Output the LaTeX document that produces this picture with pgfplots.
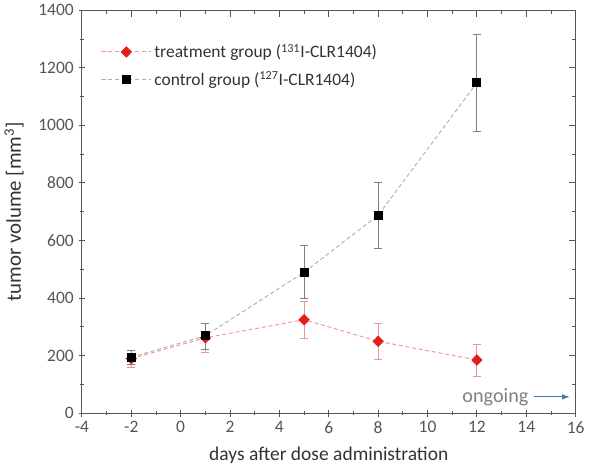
\documentclass[border=0pt]{standalone}
\usepackage{pgfplots}
\pgfplotsset{compat=1.18}
\usepackage{fontspec}
\setmainfont{Carlito}
\definecolor{axisgray}{RGB}{85,85,85}
\definecolor{treat}{RGB}{226,30,30}
\definecolor{treatline}{RGB}{240,150,150}
\definecolor{ctrlline}{RGB}{175,175,175}
\definecolor{arrowblue}{RGB}{70,120,180}

\pgfplotsset{
  frame/.style={
    scale only axis,
    width=367.5pt, height=300pt,
    xmin=-4, xmax=16, ymin=0, ymax=1400,
    xtick distance=2, ytick distance=200,
    minor x tick num=1, minor y tick num=1,
    major tick length=5pt, minor tick length=3pt,
    axis line style={axisgray, line width=0.8pt},
    every tick/.style={axisgray, line width=0.7pt},
  }
}

\begin{document}
\begin{tikzpicture}
% top and right: ticks inside, no labels
\begin{axis}[frame, tick align=inside, xtick pos=right, ytick pos=right,
    xticklabels={}, yticklabels={}]
\end{axis}
\begin{axis}[frame,
    tick align=center, xtick pos=left, ytick pos=left,
    tick label style={font=\fontsize{13}{15}\selectfont, text=axisgray},
    /pgf/number format/assume math mode=true,
    /pgf/number format/1000 sep={},
    xlabel={days after dose administration},
    ylabel={tumor volume [mm\textsuperscript{3}]},
    xlabel style={font=\fontsize{14.5}{17}\selectfont, text=black!80, yshift=-3pt},
    ylabel style={font=\fontsize{15.5}{18}\selectfont, text=black!80, yshift=4pt},
    legend style={draw=none, fill=none, at={(0.03,0.93)}, anchor=north west,
        font=\fontsize{13}{15}\selectfont, text=black!80, row sep=5pt},
    legend cell align=left,
    legend image code/.code={\draw[mark repeat=2, mark phase=2, #1]
        plot coordinates {(0cm,0cm) (0.65cm,0cm) (1.3cm,0cm)};},
    error bars/y dir=both, error bars/y explicit,
]
\addplot[densely dashed, treatline, line width=0.7pt,
    mark=diamond*, mark size=3.8pt, mark options={solid, fill=treat, draw=treat, xscale=1.3},
    error bars/error bar style={treatline, solid, line width=0.7pt},
    error bars/error mark options={rotate=90, treatline, mark size=3pt}]
    coordinates {
    (-2,190) +- (0,30)
    (1,262) +- (0,50)
    (5,325) +- (0,63)
    (8,250) +- (0,62)
    (12,185) +- (0,55)
    };
\addlegendentry{treatment group (\textsuperscript{131}I-CLR1404)}
\addplot[densely dashed, ctrlline, line width=0.7pt,
    mark=square*, mark size=3pt, mark options={solid, fill=black, draw=black},
    error bars/error bar style={gray, solid, line width=0.7pt},
    error bars/error mark options={rotate=90, gray, mark size=3pt}]
    coordinates {
    (-2,195) +- (0,25)
    (1,269) +- (0,45)
    (5,490) +- (0,92)
    (8,688) +- (0,115)
    (12,1148) +- (0,170)
    };
\addlegendentry{control group (\textsuperscript{127}I-CLR1404)}
\node[anchor=east, text=gray, font=\fontsize{15}{17}\selectfont, inner sep=1pt] at (axis cs:14.15,57) {ongoing};
\draw[-latex, arrowblue, line width=0.9pt] (axis cs:14.3,57) -- (axis cs:15.75,57);
\end{axis}
\end{tikzpicture}
\end{document}
